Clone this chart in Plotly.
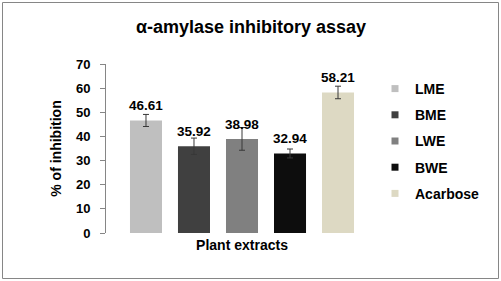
import plotly.graph_objects as go

series_names = ["LME", "BME", "LWE", "BWE", "Acarbose"]
values = [46.61, 35.92, 38.98, 32.94, 58.21]
errors = [2.5, 3.4, 4.7, 1.85, 2.6]
colors = ["#bfbfbf", "#404040", "#808080", "#0d0d0d", "#ddd9c3"]
category_label = "Plant extracts"
y_ticks = [0, 10, 20, 30, 40, 50, 60, 70]

FONT = "Liberation Sans, Arial, sans-serif"

fig = go.Figure()
positions = list(range(len(series_names)))
for i, (name, v, e, c) in enumerate(zip(series_names, values, errors, colors)):
    fig.add_trace(go.Bar(
        x=[positions[i]], y=[v], width=0.667, name=name,
        marker=dict(color=c, line=dict(width=0)),
        error_y=dict(type="data", array=[e], visible=True, color="#383838", thickness=1, width=3),
        showlegend=False, hoverinfo="skip",
    ))
    fig.add_trace(go.Scatter(
        x=[None], y=[None], mode="markers", name=f"<b>{name}</b>", legendgroup=name,
        marker=dict(symbol="square", size=7, color=c),
    ))
    fig.add_annotation(x=positions[i], y=v, text=f"<b>{v:.2f}</b>", showarrow=False,
                       yanchor="bottom", yshift=5, font=dict(family=FONT, size=13.5, color="black"))

L, R, T, B = 106, 123, 64, 48
W, H = 501, 281
pw, ph = W - L - R, H - T - B

fig.update_layout(
    width=W, height=H,
    margin=dict(l=L, r=R, t=T, b=B, pad=0, autoexpand=False),
    paper_bgcolor="white", plot_bgcolor="white",
    title=dict(text="<b>α-amylase inhibitory assay</b>", x=251 / W, xanchor="center",
               y=1 - 27 / H, yanchor="middle", font=dict(family=FONT, size=18, color="black")),
    showlegend=True,
    legend=dict(x=(375 - L) / pw, xanchor="left", y=1 - (73 - T) / ph, yanchor="top",
                font=dict(family=FONT, size=14, color="black"), tracegroupgap=5,
                bgcolor="rgba(0,0,0,0)", itemsizing="trace"),
    xaxis=dict(range=[-0.833, 4.833], tickvals=[2], ticktext=[f"<b>{category_label}</b>"],
               showline=False, showgrid=False, zeroline=False, ticks="",
               ticklabelstandoff=2,
               tickfont=dict(family=FONT, size=14, color="black")),
    yaxis=dict(range=[0, 70], tickvals=y_ticks, showline=True, linecolor="#868686", linewidth=1,
               ticks="outside", ticklen=5, tickcolor="#868686", showgrid=False, zeroline=False,
               ticklabelstandoff=7,
               tickfont=dict(family=FONT, size=13, color="black", weight="bold"),
               title=dict(text="<b>% of inhibition</b>", standoff=11,
                          font=dict(family=FONT, size=14, color="black"))),
    shapes=[dict(type="rect", xref="paper", yref="paper",
                 x0=(2.5 - L) / pw, x1=(498.5 - L) / pw,
                 y0=1 - (278.5 - T) / ph, y1=1 - (2.5 - T) / ph,
                 line=dict(color="#868686", width=1), fillcolor="rgba(0,0,0,0)", layer="below")],
)

fig.write_html("out.html")
